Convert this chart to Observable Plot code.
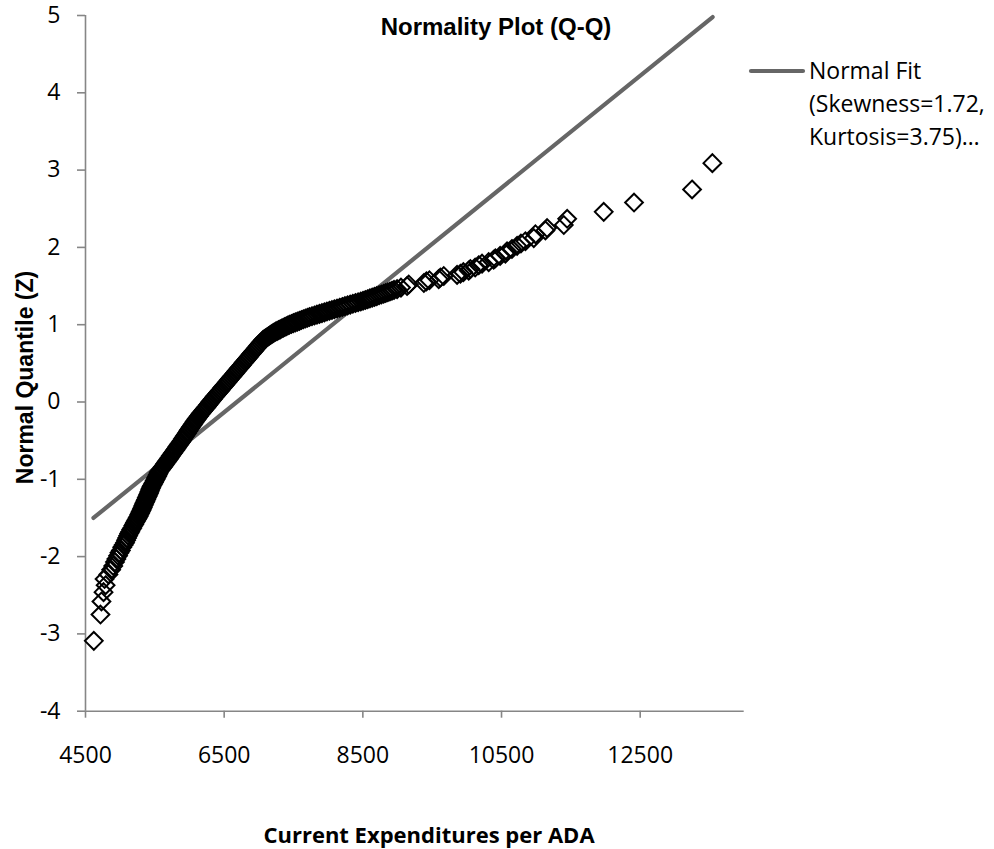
<!DOCTYPE html>
<html>
<head>
<meta charset="utf-8">
<script src="https://cdn.jsdelivr.net/npm/d3@7"></script>
<script src="https://cdn.jsdelivr.net/npm/@observablehq/plot@0.6"></script>
<style>
  html, body { margin: 0; padding: 0; background: #fff; }
  #chart { width: 994px; height: 849px; }
</style>
</head>
<body>
<div id="chart"></div>
<script>
// ---- Data ----
const chartTitle = "Normality Plot (Q-Q)";
const xTitle = "Current Expenditures per ADA";
const yTitle = "Normal Quantile (Z)";
const legendLines = ["Normal Fit", "(Skewness=1.72,", "Kurtosis=3.75)…"];

const xTicks = [4500, 6500, 8500, 10500, 12500];
const yTicks = [-4, -3, -2, -1, 0, 1, 2, 3, 4, 5];

// Normal fit line end points
const fitX = [4615, 13545];
const fitZ = [-1.50, 4.98];

// Observed expenditures (x) and their normal quantiles (z)
const obsX = [
  4620, 4716, 4730, 4760, 4790, 4775, 4830, 4870, 4900, 4925, 4945, 4970, 4990, 5010, 5030, 5050,
  5070, 5085, 5100, 5115, 5130, 5145, 5160, 5175, 5190, 5203, 5215, 5228, 5240, 5252,
  5265, 5276, 5286, 5297, 5307, 5317, 5326, 5336, 5345, 5355, 5365, 5375, 5385, 5395, 5405,
  5414, 5423, 5432, 5441, 5450, 5462, 5474, 5486, 5498, 5510, 5521, 5532, 5543, 5554, 5565,
  5582, 5599, 5616, 5633, 5650, 5666, 5682, 5698, 5714, 5730, 5746, 5762, 5778, 5794, 5810,
  5826, 5842, 5858, 5874, 5890, 5905, 5920, 5935, 5950, 5965, 5980, 5995, 6010, 6025, 6040,
  6056, 6072, 6088, 6104, 6120, 6138, 6156, 6174, 6192, 6210, 6229, 6248, 6267, 6286, 6300,
  6319, 6338, 6357, 6376, 6395, 6414, 6433, 6452, 6471, 6490, 6509, 6528, 6547, 6566, 6585,
  6604, 6623, 6642, 6661, 6680, 6699, 6718, 6737, 6756, 6775, 6794, 6813, 6832, 6851, 6870,
  6889, 6908, 6927, 6946, 6965, 6984, 7003, 7022, 7041, 7060,
  7076, 7092, 7108, 7124, 7140, 7156, 7172, 7188, 7204, 7220,
  7242, 7264, 7286, 7308, 7330, 7352, 7374, 7396, 7418, 7440,
  7469, 7498, 7527, 7556, 7585, 7614, 7643, 7672, 7701, 7730,
  7766, 7802, 7838, 7874, 7910, 7946, 7982, 8018, 8054, 8090,
  8128, 8166, 8204, 8242, 8280, 8318, 8356, 8394, 8432, 8470,
  8503, 8536, 8569, 8602, 8635, 8668, 8701, 8734, 8767, 8800,
  8830, 8860, 8890, 8920, 8950,
  8994, 9050, 9138, 9162, 9380, 9417, 9460, 9594, 9619, 9667, 9859, 9907, 9950, 10027, 10051,
  10120, 10171, 10219, 10315, 10387, 10412, 10480, 10556, 10580, 10650, 10725, 10780, 10845,
  10965, 10989, 11133, 11157, 11398, 11447, 11974, 12411, 13248, 13541
];
const obsZ = [
  -3.09, -2.75, -2.58, -2.46, -2.37, -2.29, -2.23, -2.17, -2.12, -2.07, -2.03, -1.99, -1.95, -1.92, -1.88, -1.85,
  -1.82, -1.79, -1.76, -1.73, -1.70, -1.68, -1.65, -1.63, -1.60, -1.58, -1.56, -1.54, -1.52, -1.50,
  -1.48, -1.46, -1.44, -1.42, -1.40, -1.38, -1.36, -1.34, -1.32, -1.30, -1.28, -1.26, -1.24, -1.22, -1.20,
  -1.18, -1.16, -1.14, -1.12, -1.10, -1.08, -1.06, -1.04, -1.02, -1.00, -0.98, -0.96, -0.94, -0.92, -0.90,
  -0.88, -0.86, -0.84, -0.82, -0.80, -0.78, -0.76, -0.74, -0.72, -0.70, -0.68, -0.66, -0.64, -0.62, -0.60,
  -0.58, -0.56, -0.54, -0.52, -0.50, -0.48, -0.46, -0.44, -0.42, -0.40, -0.38, -0.36, -0.34, -0.32, -0.30,
  -0.28, -0.26, -0.24, -0.22, -0.20, -0.18, -0.16, -0.14, -0.12, -0.10, -0.08, -0.06, -0.04, -0.02, 0.00,
  0.02, 0.04, 0.06, 0.08, 0.10, 0.12, 0.14, 0.16, 0.18, 0.20, 0.22, 0.24, 0.26, 0.28, 0.30,
  0.32, 0.34, 0.36, 0.38, 0.40, 0.42, 0.44, 0.46, 0.48, 0.50, 0.52, 0.54, 0.56, 0.58, 0.60,
  0.62, 0.64, 0.66, 0.68, 0.70, 0.72, 0.74, 0.76, 0.78, 0.80,
  0.81, 0.82, 0.83, 0.84, 0.85, 0.86, 0.87, 0.88, 0.89, 0.90,
  0.91, 0.92, 0.93, 0.94, 0.95, 0.96, 0.97, 0.98, 0.99, 1.00,
  1.01, 1.02, 1.03, 1.04, 1.05, 1.06, 1.07, 1.08, 1.09, 1.10,
  1.11, 1.12, 1.13, 1.14, 1.15, 1.16, 1.17, 1.18, 1.19, 1.20,
  1.21, 1.22, 1.23, 1.24, 1.25, 1.26, 1.27, 1.28, 1.29, 1.30,
  1.31, 1.32, 1.33, 1.34, 1.35, 1.36, 1.37, 1.38, 1.39, 1.40,
  1.41, 1.42, 1.43, 1.44, 1.45,
  1.46, 1.48, 1.50, 1.52, 1.54, 1.56, 1.575, 1.59, 1.61, 1.63, 1.645, 1.66, 1.68, 1.70, 1.72,
  1.74, 1.77, 1.79, 1.81, 1.84, 1.86, 1.89, 1.92, 1.95, 1.98, 2.02, 2.05, 2.08,
  2.12, 2.17, 2.22, 2.25, 2.29, 2.37, 2.46, 2.58, 2.75, 3.09
];

// ---- Build tables for the library ----
const points = obsX.map((x, i) => ({x, z: obsZ[i]}));
const fit = fitX.map((x, i) => ({x, z: fitZ[i]}));

const axisGray = "#868686";
const calibriLike = "'Open Sans', 'Noto Sans', sans-serif";
const arialLike = "'Liberation Sans', Arial, sans-serif";

const W = 994, H = 849;
const mL = 85, mR = 250.3, mT = 15, mB = 138.3;

const plot = Plot.plot({
  width: W,
  height: H,
  marginLeft: mL,
  marginRight: mR,
  marginTop: mT,
  marginBottom: mB,
  style: {fontFamily: calibriLike, fontSize: "23px", background: "#fff", color: "#000", overflow: "visible"},
  x: {domain: [4500, 14000]},
  y: {domain: [-4, 5]},
  marks: [
    Plot.ruleX([4500], {stroke: axisGray, strokeWidth: 1.6}),
    Plot.ruleY([-4], {stroke: axisGray, strokeWidth: 1.6}),
    Plot.axisX(xTicks, {
      tickSize: 7, tickPadding: 28, stroke: axisGray, strokeWidth: 1.6, fill: "#000",
      tickFormat: d => String(d), label: null, fontSize: 23, fontFamily: calibriLike
    }),
    Plot.axisY(yTicks, {
      tickSize: 8, tickPadding: 17, stroke: axisGray, strokeWidth: 1.6, fill: "#000",
      tickFormat: d => String(d), label: null, fontSize: 23, fontFamily: calibriLike
    }),
    Plot.line(fit, {x: "x", y: "z", stroke: "#666666", strokeWidth: 4.2, strokeLinecap: "round"}),
    Plot.dot(points, {x: "x", y: "z", symbol: "diamond2", r: 8, stroke: "#000", strokeWidth: 2, fill: "none"})
  ]
});

document.getElementById("chart").appendChild(plot);

const svg = d3.select(plot);

// Title
svg.append("text")
  .attr("x", 496).attr("y", 35)
  .attr("text-anchor", "middle")
  .style("font-family", arialLike).style("font-weight", "bold").style("font-size", "24px")
  .attr("fill", "#000")
  .text(chartTitle);

// Y title
svg.append("text")
  .attr("transform", "translate(33,377.5) rotate(-90)")
  .attr("text-anchor", "middle")
  .style("font-family", arialLike).style("font-weight", "bold").style("font-size", "23px")
  .attr("fill", "#000")
  .text(yTitle);

// X title
svg.append("text")
  .attr("x", 429).attr("y", 843)
  .attr("text-anchor", "middle")
  .style("font-family", calibriLike).style("font-weight", "bold").style("font-size", "22px")
  .attr("fill", "#000")
  .text(xTitle);

// Legend
svg.append("line")
  .attr("x1", 751).attr("x2", 803).attr("y1", 71).attr("y2", 71)
  .attr("stroke", "#666666").attr("stroke-width", 4.2).attr("stroke-linecap", "round");
const legBase = [79, 112, 144.5];
legendLines.forEach((t, i) => {
  svg.append("text")
    .attr("x", 809).attr("y", legBase[i])
    .attr("text-anchor", "start")
    .style("font-family", calibriLike).style("font-size", "23px")
    .attr("fill", "#000")
    .text(t);
});
</script>
</body>
</html>
